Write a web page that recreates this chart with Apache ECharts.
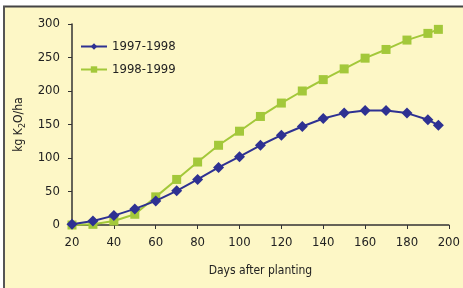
<!DOCTYPE html>
<html><head><meta charset="utf-8">
<script src="https://cdn.jsdelivr.net/npm/echarts@6/dist/echarts.min.js"></script>
<style>html,body{margin:0;padding:0;background:#fff}#c{width:463px;height:288px}</style>
</head><body><div id="c"></div>
<script>
var days = [20,30,40,50,60,70,80,90,100,110,120,130,140,150,160,170,180,190,195];
var s1997 = [1,6,14,24,36,51,68,86,102,119,134,147,159,167,171,171,167,157,149];
var s1998 = [0,1,6,16,42,68,94,119,140,162,182,200,217,233,249,262,276,286,292];
var xTicks = [20,40,60,80,100,120,140,160,180,200];
var yTicks = [0,50,100,150,200,250,300];
var FONT = "'DejaVu Sans Condensed','Liberation Sans Narrow',sans-serif";
function pairs(xs, ys){ return xs.map(function(x,i){ return [x, ys[i]]; }); }
var chart = echarts.init(document.getElementById('c'), null, {renderer:'canvas'});
chart.setOption({
  backgroundColor: '#fdf7c6',
  animation: false,
  graphic: [
    {type:'rect', z:-9, shape:{x:0, y:0, width:463, height:6}, style:{fill:'#ffffff'}},
    {type:'rect', z:-9, shape:{x:0, y:0, width:3, height:288}, style:{fill:'#ffffff'}},
    {type:'line', z:-8, shape:{x1:3, y1:6.5, x2:463, y2:6.5}, style:{stroke:'#444', lineWidth:2}},
    {type:'line', z:-8, shape:{x1:4, y1:6, x2:4, y2:288}, style:{stroke:'#555', lineWidth:2}}
  ],
  grid: {left:72, right:14, top:24, bottom:63, containLabel:false},
  legend: {
    orient:'vertical', left:80, top:40, padding:0, itemWidth:26, itemHeight:8, itemGap:10,
    textStyle:{fontFamily:FONT, fontSize:13, color:'#222'},
    data:['1997-1998','1998-1999']
  },
  xAxis: {
    type:'value', min:20, max:200, interval:20,
    name:'Days after planting', nameLocation:'middle', nameGap:40,
    nameTextStyle:{fontFamily:FONT, fontSize:12, color:'#222'},
    axisLine:{show:true, lineStyle:{color:'#333', width:1.5}},
    axisTick:{show:true, length:4, lineStyle:{color:'#333'}},
    axisLabel:{fontFamily:FONT, fontSize:13, color:'#222', margin:11,
      formatter:function(v){ return xTicks.indexOf(v)>=0 ? String(v) : ''; }},
    splitLine:{show:false}
  },
  yAxis: {
    type:'value', min:0, max:300, interval:50,
    name:'{a|kg K}{s|2}{a|O/ha}', nameLocation:'middle', nameGap:44, nameRotate:90,
    nameTextStyle:{fontFamily:FONT, fontSize:12, color:'#222',
      rich:{a:{fontFamily:FONT, fontSize:12, color:'#222'}, s:{fontFamily:FONT, fontSize:9, color:'#222', padding:[6,0,0,0]}}},
    axisLine:{show:true, lineStyle:{color:'#333', width:1.5}},
    axisTick:{show:true, length:4, lineStyle:{color:'#333'}},
    axisLabel:{fontFamily:FONT, fontSize:13, color:'#222', margin:12,
      formatter:function(v){ return yTicks.indexOf(v)>=0 ? String(v) : ''; }},
    splitLine:{show:false}
  },
  series: [
    {name:'1997-1998', type:'line', data:pairs(days, s1997), symbol:'diamond', symbolSize:11,
     itemStyle:{color:'#2e3192'}, lineStyle:{color:'#2e3192', width:2}, z:3},
    {name:'1998-1999', type:'line', data:pairs(days, s1998), symbol:'rect', symbolSize:9,
     itemStyle:{color:'#a3c83a'}, lineStyle:{color:'#a3c83a', width:2}, z:2}
  ]
});
</script></body></html>
